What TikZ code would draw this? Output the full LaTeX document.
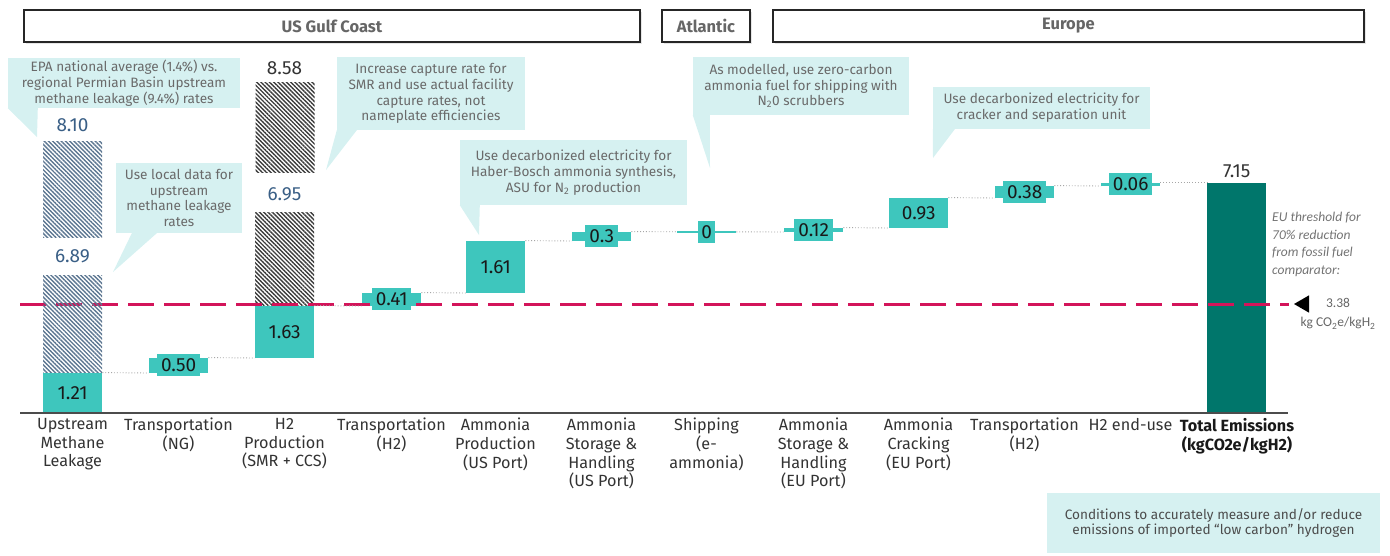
\documentclass[tikz,border=0pt]{standalone}
\usepackage{fontspec}
\setmainfont{Fira Sans}
\newfontfamily\notefont{Carlito}
\usepackage{tikz}
\usetikzlibrary{positioning,shapes.geometric,patterns.meta,shadows}
\usepackage{xcolor}
\definecolor{barteal}{HTML}{3EC6BD}
\definecolor{totalteal}{HTML}{00766B}
\definecolor{callcyan}{HTML}{D6F1F1}
\definecolor{threshred}{HTML}{D3145A}
\definecolor{valblue}{HTML}{3A5F86}
\definecolor{hatchblue}{HTML}{5C7691}
\definecolor{hatchgray}{HTML}{3C3C3C}
\definecolor{calltext}{HTML}{6A6A6A}
\definecolor{labeltext}{HTML}{333333}
\tikzset{
    regionbox/.style={
        draw=black!85,
        line width=2pt,
        fill=white,
        minimum height=32pt,
        font=\fontsize{16.5}{19}\selectfont\bfseries,
        text=black!60,
        drop shadow={opacity=0.2, shadow xshift=1.5pt, shadow yshift=-1.5pt}
    },
    barbox/.style={
        fill=barteal,
        inner sep=0pt,
        anchor=south west,
        minimum width=59pt
    },
    totalbar/.style={barbox, fill=totalteal},
    hatchbar/.style={
        inner sep=0pt,
        anchor=south west,
        minimum width=59pt,
        fill=white,
        pattern={Lines[angle=-45,distance=3pt,line width=1.4pt]}
    },
    valnum/.style={
        inner xsep=4pt,
        inner ysep=0pt,
        minimum height=22pt,
        font=\fontsize{19}{22}\selectfont,
        text=black!90
    },
    valtag/.style={valnum, fill=barteal},
    callbox/.style={
        fill=callcyan,
        inner sep=0pt,
        align=center,
        text=calltext,
        font=\fontsize{13.6}{15.8}\selectfont
    },
    callptr/.style={fill=callcyan},
    linkline/.style={draw=black!35, line width=0.9pt, dotted},
    catlabel/.style={
        align=center,
        anchor=north,
        inner sep=0pt,
        text=labeltext,
        font=\fontsize{16.2}{18.7}\selectfont
    },
    threshold/.style={draw=threshred, line width=3pt, dash pattern=on 26pt off 10pt}
}

\begin{document}
\begin{tikzpicture}[x=1pt,y=-1pt]
    \useasboundingbox (0,0) rectangle (1390,555);

    % Regions
    \node[regionbox, minimum width=616pt] (gulf) at (332,26) {US Gulf Coast};
    \node[regionbox, minimum width=88pt] (atl) at (706,26) {Atlantic};
    \node[regionbox, minimum width=591pt] (eur) at (1068.5,26) {Europe};

    % Callouts
    \node[callbox, minimum width=232pt, minimum height=50pt] (epa) at (124,83)
        {EPA national average (1.4\%) vs.\\regional Permian Basin upstream\\methane leakage (9.4\%) rates};
    \coordinate (epatip) at (37,137);
    \fill[callptr] (epa.south west) -- ([xshift=30pt]epa.south west) -- (epatip) -- cycle;

    \node[callbox, minimum width=126pt, minimum height=70pt] (local) at (179,198)
        {Use local data for\\upstream\\methane leakage\\rates};
    \coordinate (localtip) at (113,272);
    \fill[callptr] ([xshift=16pt]local.south west) -- ([xshift=41pt]local.south west) -- (localtip) -- cycle;

    \node[callbox, minimum width=188pt, minimum height=73pt] (smr) at (431,93.5)
        {Increase capture rate for\\SMR and use actual facility\\capture rates, not\\nameplate efficiencies};
    \coordinate (smrtip) at (326,170);
    \fill[callptr] (smr.south west) -- ([xshift=20pt]smr.south west) -- (smrtip) -- cycle;

    \node[callbox, minimum width=227pt, minimum height=65pt] (haber) at (573.5,172.5)
        {Use decarbonized electricity for\\Haber-Bosch ammonia synthesis,\\ASU for N\textsubscript{2} production};
    \coordinate (habertip) at (479,235);
    \fill[callptr] (haber.south west) -- ([xshift=20pt]haber.south west) -- (habertip) -- cycle;

    \node[callbox, minimum width=216pt, minimum height=58pt] (ship) at (801,86)
        {As modelled, use zero-carbon\\ammonia fuel for shipping with\\N\textsubscript{2}0 scrubbers};
    \coordinate (shiptip) at (710,168);
    \fill[callptr] (ship.south west) -- ([xshift=17pt]ship.south west) -- (shiptip) -- cycle;

    \node[callbox, minimum width=217pt, minimum height=42pt] (crack) at (1041.5,108)
        {Use decarbonized electricity for\\cracker and separation unit};
    \coordinate (cracktip) at (933,158);
    \fill[callptr] (crack.south west) -- ([xshift=22pt]crack.south west) -- (cracktip) -- cycle;

    \node[callbox, text=black!70, minimum width=333pt, minimum height=60pt] (cond) at (1213.5,523)
        {Conditions to accurately measure and/or reduce\\emissions of imported “low carbon” hydrogen};

    % Bars
    \node[hatchbar, pattern color=hatchgray, minimum height=90pt] (h3a) at (255,173) {};
    \node[hatchbar, pattern color=hatchgray, minimum height=93pt] (h3b) at (255,306) {};
    \node[barbox, minimum height=40pt] (b1) at (43,413) {};
    \node[barbox, minimum height=15pt] (b2) at (149,373) {};
    \node[barbox, minimum height=52pt] (b3) at (255,358) {};
    \node[barbox, minimum height=13pt] (b4) at (362,306) {};
    \node[barbox, minimum height=52pt] (b5) at (466,293) {};
    \node[barbox, minimum height=9pt] (b6) at (572,241) {};
    \node[barbox, minimum height=2pt] (b7) at (677,233) {};
    \node[barbox, minimum height=4pt] (b8) at (784,232) {};
    \node[barbox, minimum height=30pt] (b9) at (889,228) {};
    \node[barbox, minimum height=12pt] (b10) at (995,198) {};
    \node[barbox, minimum height=3pt] (b11) at (1101,186) {};
    \node[totalbar, minimum height=230pt] (tot) at (1207,413) {};

    % Threshold
    \coordinate (thrstart) at (20,304);
    \node[isosceles triangle, isosceles triangle apex angle=60, fill=black, inner sep=0pt,
        minimum size=15pt, shape border rotate=180] (thrmark) at (1304,304) {};
    \draw[threshold, shorten >=5pt] (thrstart) -- (thrmark.apex);

    \node[hatchbar, pattern color=hatchblue, minimum height=96pt] (h1a) at (43,238) {};
    \node[hatchbar, pattern color=hatchblue, minimum height=97pt] (h1b) at (43,373) {};

    % Steps
    \draw[linkline] (b1.north east) -- (b2.south west);
    \draw[linkline] (b2.north east) -- (b3.south west);
    \draw[linkline] (b3.north east) -- (b4.south west);
    \draw[linkline] (b4.north east) -- (b5.south west);
    \draw[linkline] (b5.north east) -- (b6.south west);
    \draw[linkline] (b6.north east) -- (b7.west);
    \draw[linkline] (b7.east) -- (b8.south west);
    \draw[linkline] (b8.north east) -- (b9.south west);
    \draw[linkline] (b9.north east) -- (b10.south west);
    \draw[linkline] (b10.north east) -- (b11.south west);
    \draw[linkline] (b11.north east) -- (tot.north west);

    % Values
    \node[valnum] (v1) at (b1) {1.21};
    \node[valnum, text=valblue] (v1a) at (72.5,125) {8.10};
    \node[valnum, text=valblue] (v1b) at (72.5,256) {6.89};
    \node[valtag] (v2) at (b2) {0.50};
    \node[valnum] (v3) at (b3) {1.63};
    \node[valnum, text=black!80] (v3a) at (284.5,68) {8.58};
    \node[valnum, text=valblue] (v3b) at (284.5,194) {6.95};
    \node[valtag] (v4) at (b4) {0.41};
    \node[valnum] (v5) at (b5) {1.61};
    \node[valtag] (v6) at (b6) {0.3};
    \node[valtag, inner xsep=3pt] (v7) at (b7) {0};
    \node[valtag] (v8) at (b8) {0.12};
    \node[valnum] (v9) at (b9) {0.93};
    \node[valtag] (v10) at (b10) {0.38};
    \node[valtag] (v11) at (b11) {0.06};
    \node[valnum, text=black!80, above=0pt of tot] (vtot) {7.15};

    % Axis
    \draw[black!70, line width=1.5pt] (20,413) -- (1288,413);

    % Categories
    \node[catlabel] (c1) at (72.5,418) {Upstream\\Methane\\Leakage};
    \node[catlabel] (c2) at (178.5,418) {Transportation\\(NG)};
    \node[catlabel] (c3) at (284.5,418) {H2\\Production\\(SMR + CCS)};
    \node[catlabel] (c4) at (391.5,418) {Transportation\\(H2)};
    \node[catlabel] (c5) at (495.5,418) {Ammonia\\Production\\(US Port)};
    \node[catlabel] (c6) at (601.5,418) {Ammonia\\Storage \&\\Handling\\(US Port)};
    \node[catlabel] (c7) at (706.5,418) {Shipping\\(e-\\ammonia)};
    \node[catlabel] (c8) at (813.5,418) {Ammonia\\Storage \&\\Handling\\(EU Port)};
    \node[catlabel] (c9) at (918.5,418) {Ammonia\\Cracking\\(EU Port)};
    \node[catlabel] (c10) at (1024.5,418) {Transportation\\(H2)};
    \node[catlabel] (c11) at (1130.5,418) {H2 end-use};
    \node[catlabel, font=\fontsize{16.2}{18.7}\selectfont\bfseries, text=black!90] (c12) at (1237,418)
        {Total Emissions\\(kgCO2e/kgH2)};

    % Threshold note
    \node[anchor=north west, align=left, inner sep=0pt, text=black!55,
        font=\notefont\itshape\fontsize{13.5}{17.5}\selectfont] (eunote) at (1272,212)
        {EU threshold for\\70\% reduction\\from fossil fuel\\comparator:};
    \node[align=center, inner sep=0pt, text=black!60,
        font=\notefont\fontsize{13.5}{19}\selectfont] (thrval) at (1338,314)
        {3.38\\kg CO\textsubscript{2}e/kgH\textsubscript{2}};
\end{tikzpicture}
\end{document}
